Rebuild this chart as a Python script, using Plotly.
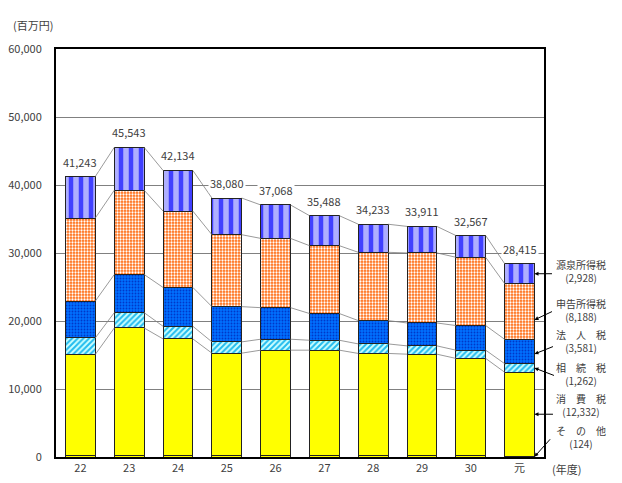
import plotly.graph_objects as go
import numpy as np

years = ["22", "23", "24", "25", "26", "27", "28", "29", "30", "元"]
other = [150, 150, 150, 150, 150, 150, 150, 150, 200, 124]
consumption = [14930, 18830, 17210, 15120, 15560, 15560, 15080, 14970, 14300, 12332]
inheritance = [2430, 2250, 1860, 1660, 1610, 1460, 1400, 1220, 1210, 1262]
corporate = [5420, 5610, 5710, 5180, 4640, 3930, 3430, 3370, 3620, 3581]
self_income = [12210, 12400, 11230, 10580, 10190, 9980, 10040, 10300, 10040, 8188]
withholding = [6103, 6303, 5974, 5390, 4918, 4408, 4133, 3901, 3197, 2928]
totals = [41243, 45543, 42134, 38080, 37068, 35488, 34233, 33911, 32567, 28415]

series_names = ["その他", "消費税", "相続税", "法人税", "申告所得税", "源泉所得税"]
legend_labels = ["そ　の　他", "消　費　税", "相　続　税", "法　人　税", "申告所得税", "源泉所得税"]
series = [other, consumption, inheritance, corporate, self_income, withholding]

styles = [
    dict(color="#FFFF00"),
    dict(color="#FFFF00"),
    dict(color="#CCFFFF", pattern=dict(shape="/", bgcolor="#CCFFFF", fgcolor="#22BBEE", size=4, solidity=0.5, fillmode="replace")),
    dict(color="#0066FF", pattern=dict(shape=".", bgcolor="#0070FF", fgcolor="#0038C8", size=3, solidity=0.3, fillmode="replace")),
    dict(color="#FF9966", pattern=dict(shape=".", bgcolor="#FF6A10", fgcolor="#FFFFFF", size=3, solidity=0.45, fillmode="replace")),
    dict(color="#9999FF", pattern=dict(shape="|", bgcolor="#AEAEFF", fgcolor="#4040FF", size=10, solidity=0.45, fillmode="replace")),
]

x = np.arange(len(years))
W = 0.61
fig = go.Figure()

for name, vals, st in zip(series_names, series, styles):
    fig.add_trace(go.Bar(
        x=x, y=vals, name=name, width=W,
        marker=dict(**st, line=dict(color="#222222", width=1)),
        showlegend=False, hoverinfo="skip",
    ))

# series connecting lines
cum = np.cumsum(np.array(series), axis=0)
for level in range(1, len(series)):
    xs, ys = [], []
    for i in range(len(years) - 1):
        xs += [x[i] + W / 2, x[i + 1] - W / 2, None]
        ys += [cum[level][i], cum[level][i + 1], None]
    fig.add_trace(go.Scatter(x=xs, y=ys, mode="lines", line=dict(color="#808080", width=0.8),
                             showlegend=False, hoverinfo="skip"))

font = dict(family="Noto Sans CJK JP", size=11, color="#404040")

# total labels
for i, t in enumerate(totals):
    fig.add_annotation(x=x[i], y=t, text=f"{t:,}", showarrow=False, yshift=15,
                       yanchor="middle", font=font, bgcolor="white", borderpad=1)

# page body has an 8px margin; compensate so window pixels match
OFF = 8
FW, FH = 622 - OFF, 483 - OFF
L, R, T, B = 56 - OFF, 78, 49 - OFF, 26
pw, ph = FW - L - R, FH - T - B
def px2paper(px, py):
    return (px - OFF - L) / pw, 1 - (py - OFF - T) / ph

# legend labels with arrows to last bar
last = len(years) - 1
bottoms = [0] + list(cum[:-1, last])
fracs = [0.3, 0.5, 0.5, 0.4, 0.35, 0.5]
label_y_px = [437, 404.5, 373.5, 340.5, 309.5, 270.5]
ax_off = [17, 20, 21, 20, 19, 19]
ay_off = [-19, 0, 8, -8, -9, 0]
lfont = dict(family="Noto Sans CJK JP", size=10, color="#404040")
for k in range(len(series)):
    ty = bottoms[k] + fracs[k] * series[k][last]
    fig.add_annotation(x=last + W / 2, y=ty, xref="x", yref="y", text="", showarrow=True,
                       arrowhead=2, arrowsize=0.8, arrowwidth=1, arrowcolor="#000000",
                       ax=ax_off[k], ay=ay_off[k], axref="pixel", ayref="pixel")
    xx, yy = px2paper(581, label_y_px[k])
    fig.add_annotation(x=xx, y=yy, xref="paper", yref="paper",
                       text=f"{legend_labels[k]}<br>({series[k][last]:,})",
                       showarrow=False, font=lfont, xanchor="center", yanchor="middle", align="center")

xx, yy = px2paper(33, 25)
fig.add_annotation(x=xx, y=yy, xref="paper", yref="paper", text="(百万円)", showarrow=False,
                   font=font, xanchor="center", yanchor="middle")
xx, yy = px2paper(566, 469)
fig.add_annotation(x=xx, y=yy, xref="paper", yref="paper", text="(年度)", showarrow=False,
                   font=font, xanchor="center", yanchor="middle")

fig.update_layout(
    width=FW, height=FH, barmode="stack", bargap=0.39,
    margin=dict(l=L, r=R, t=T, b=B, pad=0, autoexpand=False),
    paper_bgcolor="white", plot_bgcolor="white",
    font=font, showlegend=False,
    xaxis=dict(tickmode="array", tickvals=x, ticktext=years, range=[-0.5, len(years) - 0.5],
               showline=True, linecolor="black", linewidth=2, mirror=True, showgrid=False,
               ticks="", tickfont=font, zeroline=False, automargin=False),
    yaxis=dict(range=[0, 60000], dtick=10000, tickformat=",d", showgrid=True, gridcolor="#808080",
               gridwidth=1, showline=True, linecolor="black", linewidth=2, mirror=True,
               ticks="", tickfont=font, zeroline=False, ticklabelstandoff=10, automargin=False),
)

fig.write_html("out.html")
